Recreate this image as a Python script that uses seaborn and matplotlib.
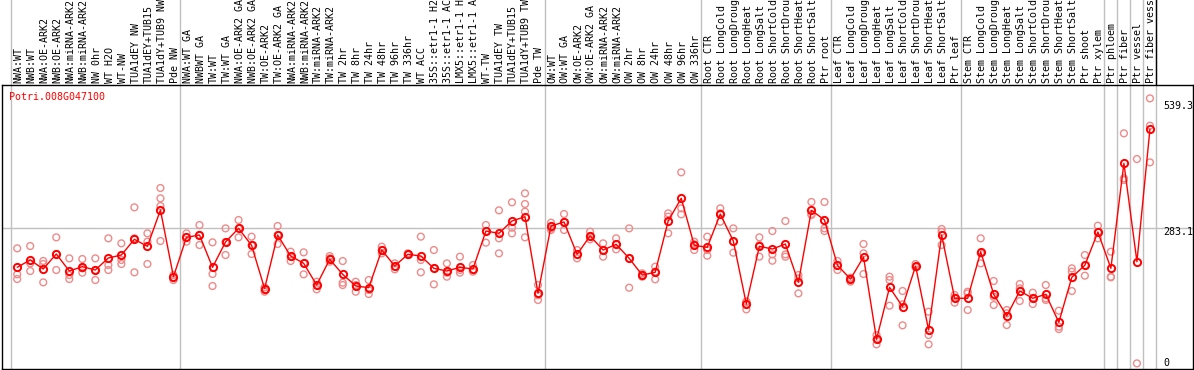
import matplotlib
matplotlib.use("Agg")
import matplotlib.pyplot as plt
import matplotlib.transforms as mtransforms
import numpy as np
import pandas as pd
import seaborn as sns

# ---------------- data ----------------
gene_id = "Potri.008G047100"

labels_nw = ["NWA:WT", "NWB:WT", "NWA:OE-ARK2", "NWB:OE-ARK2", "NWA:miRNA-ARK2",
             "NWB:miRNA-ARK2", "NW 0hr", "WT H2O", "WT-NW", "TUA1dEY NW",
             "TUA1dEY+TUB15", "TUA1dY+TUB9 NW", "Pde NW"]
labels_tw = ["NWA:WT GA", "NWBWT GA", "TW:WT", "TW:WT GA", "NWA:OE-ARK2 GA",
             "NWB:OE-ARK2 GA", "TW:OE-ARK2", "TW:OE-ARK2 GA", "NWA:miRNA-ARK2",
             "NWB:miRNA-ARK2", "TW:miRNA-ARK2", "TW:miRNA-ARK2", "TW 2hr", "TW 8hr",
             "TW 24hr", "TW 48hr", "TW 96hr", "TW 336hr", "WT ACC", "35S::etr1-1 H2",
             "35S::etr1-1 AC", "LMX5::etr1-1 H", "LMX5::etr1-1 A", "WT-TW",
             "TUA1dEY TW", "TUA1dEY+TUB15", "TUA1dY+TUB9 TW", "Pde TW"]
labels_ow = ["OW:WT", "OW:WT GA", "OW:OE-ARK2", "OW:OE-ARK2 GA", "OW:miRNA-ARK2",
             "OW:miRNA-ARK2", "OW 2hr", "OW 8hr", "OW 24hr", "OW 48hr", "OW 96hr",
             "OW 336hr"]
labels_root = ["Root CTR", "Root LongCold", "Root LongDroug", "Root LongHeat",
               "Root LongSalt", "Root ShortCold", "Root ShortDrou", "Root ShortHeat",
               "Root ShortSalt", "Ptr root"]
labels_leaf = ["Leaf CTR", "Leaf LongCold", "Leaf LongDroug", "Leaf LongHeat",
               "Leaf LongSalt", "Leaf ShortCold", "Leaf ShortDrou", "Leaf ShortHeat",
               "Leaf ShortSalt", "Ptr leaf"]
labels_stem = ["Stem CTR", "Stem LongCold", "Stem LongDroug", "Stem LongHeat",
               "Stem LongSalt", "Stem ShortCold", "Stem ShortDrou", "Stem ShortHeat",
               "Stem ShortSalt", "Ptr shoot", "Ptr xylem"]
labels_tissue = ["Ptr phloem", "Ptr fiber", "Ptr vessel", "Ptr fiber vess"]

groups = [labels_nw, labels_tw, labels_ow, labels_root, labels_leaf, labels_stem,
          ["Ptr phloem"], ["Ptr fiber"], ["Ptr vessel"], ["Ptr fiber vess"]]

means = [200.7, 216.0, 197.1, 228.6, 192.9, 202.0, 195.0, 220.2, 226.5, 259.3, 244.6, 320.8, 181.0,
         263.5, 268.4, 200.7, 253.7, 282.4, 246.7, 155.9, 268.4, 224.4, 209.0, 163.6, 217.4, 185.9,
         161.5, 158.0, 236.9, 203.4, 227.9, 224.4, 198.5, 192.9, 200.6, 197.1, 276.8, 271.9, 297.8,
         306.8, 146.1,
         287.3, 295.7, 227.9, 266.3, 236.9, 248.9, 219.5, 184.5, 190.2, 297.8, 345.4, 246.8,
         242.6, 312.4, 255.8, 123.7, 244.7, 239.0, 249.5, 169.2, 320.2, 299.9,
         204.9, 176.1, 222.3, 49.7, 158.7, 118.1, 203.4, 69.2, 268.4, 135.7,
         135.7, 233.4, 144.1, 98.6, 151.0, 135.7, 144.1, 85.3, 179.7, 204.9, 274.7,
         198.6, 418.7, 212.4, 490.7]

replicates = [
    [240.4, 185.9, 176.1], [245.3, 208.9, 192.9], [213.9, 207.6, 169.1], [263.5, 228.5, 195.0],
    [219.4, 184.5, 176.1], [218.0, 198.5, 189.4], [219.4, 195.0, 174.0], [261.4, 205.5, 195.0],
    [250.9, 216.0, 207.6], [326.4, 261.4, 190.1], [271.9, 254.4, 207.6],
    [366.9, 345.3, 329.2, 255.8], [184.5, 179.6, 174.0],
    [271.9, 263.5, 254.4], [289.3, 268.4, 247.4], [253.0, 186.6, 161.4], [282.3, 253.7, 226.4],
    [299.8, 282.3, 263.5], [264.9, 246.7, 228.5], [158.6, 153.0, 149.5], [287.2, 268.4, 249.5],
    [233.4, 222.9, 213.9], [232.0, 208.9, 185.9], [170.5, 163.5, 154.4], [224.3, 219.4, 212.4],
    [213.8, 168.4, 163.5], [170.5, 163.5, 149.5], [174.0, 153.0, 144.6], [243.9, 236.9, 229.9],
    [208.9, 201.9, 196.4], [229.9, 226.4, 227.9], [264.9, 215.9, 190.1], [236.9, 198.5, 164.9],
    [208.9, 189.4, 181.0], [222.9, 195.0, 189.4], [205.4, 195.0, 191.5], [289.3, 276.7, 252.3],
    [320.1, 261.4, 229.9], [336.9, 283.7, 271.9], [355.7, 333.4, 317.3, 263.5],
    [163.5, 132.1, 142.0],
    [294.2, 282.3, 278.8], [312.4, 295.6, 278.8], [236.9, 219.4, 227.9], [275.4, 259.3, 266.3],
    [250.9, 222.9, 236.9], [261.4, 238.3, 248.9], [282.3, 219.4, 157.9], [188.0, 184.5, 181.0],
    [201.9, 191.5, 175.4], [313.8, 306.8, 271.9], [399.8, 324.3, 311.7], [254.4, 236.9, 248.9],
    [264.9, 236.9, 225.0], [324.3, 296.3, 313.8], [282.3, 231.3, 254.4], [128.6, 112.5, 128.6],
    [263.5, 222.9, 247.4], [276.7, 227.8, 214.5], [297.7, 222.9, 227.8], [184.5, 146.0, 177.5],
    [337.6, 310.3, 312.4], [337.6, 282.3, 276.7],
    [213.9, 195.0, 205.4], [178.9, 170.5, 177.5], [249.5, 230.0, 186.6], [58.7, 39.1, 49.7],
    [181.0, 174.0, 120.2], [151.0, 123.0, 79.0], [207.6, 202.0, 200.6], [107.6, 58.7, 39.1],
    [281.0, 247.4, 275.0], [142.6, 126.5, 137.0],
    [149.5, 111.1, 146.0], [261.4, 208.9, 229.9], [171.9, 121.6, 139.1], [111.1, 79.6, 104.1],
    [165.6, 130.0, 156.5], [147.4, 123.7, 135.7], [163.5, 132.1, 135.6], [109.7, 76.1, 71.2],
    [198.5, 191.5, 150.9], [226.4, 183.1, 204.9], [287.9, 261.4, 274.7],
    [233.4, 181.0, 179.6], [481.6, 387.2, 383.7], [427.7, -0.8], [554.9, 497.6, 420.7],
]

ytick_values = [539.3, 283.1, 0]

# ---------------- build frames ----------------
categories = [lab for g in groups for lab in g]
n = len(categories)
xpos = np.arange(n) + 0.5
df_mean = pd.DataFrame({"x": xpos, "value": means, "sample": categories})
rows = []
for i, reps in enumerate(replicates):
    for v in reps:
        rows.append({"x": xpos[i], "value": v})
df_rep = pd.DataFrame(rows)

# group boundaries
bounds = [0]
for g in groups:
    bounds.append(bounds[-1] + len(g))

# ---------------- plot ----------------
sns.set_style("white")
plt.rcParams["font.family"] = ["DejaVu Sans Mono", "DejaVu Sans"]

W, H = 1194, 370
fig = plt.figure(figsize=(W / 100, H / 100), dpi=100)
ax_left_px, ax_right_px, ax_top_px, ax_bot_px = 2, 1193, 85, 369
ax = fig.add_axes([ax_left_px / W, 1 - ax_bot_px / H,
                   (ax_right_px - ax_left_px) / W, (ax_bot_px - ax_top_px) / H])

col_w = 13.02
x0_px = 10.7
ax.set_xlim(-(x0_px - ax_left_px) / col_w, (ax_right_px - x0_px) / col_w)
px_per_unit = 0.4769
zero_px = 363.0
ax.set_ylim(-(ax_bot_px - zero_px) / px_per_unit, (zero_px - ax_top_px) / px_per_unit)

grid_col = "#c0c0c0"
ax.axhline(ytick_values[1], color=grid_col, lw=1, zorder=0)

blend = mtransforms.blended_transform_factory(ax.transData, ax.transAxes)
top_ext = 1 + ax_top_px / (ax_bot_px - ax_top_px) + 0.01
for b in bounds:
    ax.plot([b, b], [0, top_ext], color=grid_col, lw=1, transform=blend,
            clip_on=False, zorder=0)
ax.plot([bounds[-1], bounds[-1]], [1, top_ext], color="black", lw=1, transform=blend,
        clip_on=False, zorder=1)

rep_col = "#f08a8a"
sns.scatterplot(data=df_rep, x="x", y="value", ax=ax, marker="o", s=24,
                facecolors="none", edgecolor=rep_col, linewidth=1.0, zorder=2,
                legend=False)
sns.lineplot(data=df_mean, x="x", y="value", ax=ax, color="red", lw=1.0,
             marker="o", markersize=5.2, markerfacecolor="none",
             markeredgecolor="red", markeredgewidth=1.4, zorder=3, legend=False)

ax.set_xlabel("")
ax.set_ylabel("")
ax.set_xticks([])
ax.set_yticks([])
for s in ax.spines.values():
    s.set_visible(True)
    s.set_color("black")
    s.set_linewidth(1)

fs = 7.2
for xi, lab in zip(xpos, categories):
    ax.text(xi + 0.1, 1 + 2 / (ax_bot_px - ax_top_px), lab, rotation=90,
            ha="center", va="bottom", fontsize=fs, color="black",
            transform=blend, clip_on=False)

lab_x = (1163 - x0_px) / col_w
for v in ytick_values:
    off = -4 if v == ytick_values[1] else 0
    ax.annotate(f"{v:g}", xy=(lab_x, v), xytext=(0, off), textcoords="offset pixels",
                ha="left", va="center", fontsize=fs, color="black")

ax.text(-0.1, 1 - 12 / (ax_bot_px - ax_top_px), gene_id, transform=blend,
        ha="left", va="center", fontsize=fs, color="red")

fig.savefig("out.png", dpi=100)
